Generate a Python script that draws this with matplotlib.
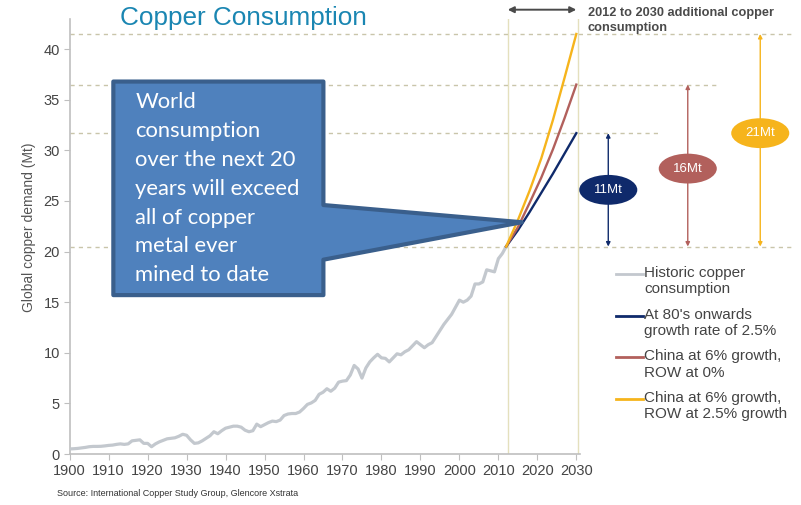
"""
Copper consumption chart: historic demand plus three 2012-2030 scenarios.
"""

import matplotlib
matplotlib.use('Agg')
import matplotlib.pyplot as plt
from matplotlib.patches import Polygon, Ellipse
from matplotlib.lines import Line2D

plt.rcParams['font.family'] = ['Liberation Sans', 'DejaVu Sans']

# Historic world copper consumption (Mt)
hist_years = list(range(1900, 2013))
hist_values = [
    0.5, 0.52, 0.55, 0.6, 0.65, 0.72, 0.75, 0.75, 0.76, 0.8,
    0.85, 0.88, 0.95, 1.0, 0.95, 1.0, 1.3, 1.35, 1.4, 1.05,
    1.05, 0.72, 1.0, 1.2, 1.35, 1.5, 1.55, 1.6, 1.75, 1.95,
    1.85, 1.4, 1.05, 1.1, 1.3, 1.55, 1.8, 2.2, 2.0, 2.3,
    2.55, 2.65, 2.75, 2.75, 2.65, 2.35, 2.2, 2.3, 2.95, 2.7,
    2.9, 3.1, 3.25, 3.2, 3.35, 3.8, 3.95, 4.0, 4.0, 4.15,
    4.5, 4.9, 5.05, 5.3, 5.9, 6.1, 6.45, 6.2, 6.5, 7.1,
    7.2, 7.25, 7.8, 8.75, 8.4, 7.5, 8.5, 9.1, 9.5, 9.85,
    9.5, 9.45, 9.1, 9.5, 9.9, 9.8, 10.1, 10.3, 10.7, 11.1,
    10.8, 10.5, 10.8, 11.0, 11.6, 12.2, 12.8, 13.3, 13.8, 14.5,
    15.2, 15.0, 15.2, 15.6, 16.8, 16.8, 17.0, 18.2, 18.1, 18.0,
    19.3, 19.8, 20.5,
]

# Scenario projections 2012-2030 (Mt)
proj_years = [2012, 2015, 2018, 2021, 2024, 2027, 2030]
proj_base = [20.5, 22.1, 23.9, 25.8, 27.7, 29.7, 31.7]
proj_china_row0 = [20.5, 22.4, 24.8, 27.3, 30.1, 33.2, 36.5]
proj_china_row25 = [20.5, 23.1, 26.0, 29.2, 33.0, 37.2, 41.5]

increase_labels = ['11Mt', '16Mt', '21Mt']
increase_x = [2038.2, 2058.6, 2077.2]

legend_labels = [
    'Historic copper\nconsumption',
    "At 80's onwards\ngrowth rate of 2.5%",
    'China at 6% growth,\nROW at 0%',
    'China at 6% growth,\nROW at 2.5% growth',
]

C_HIST = '#c3c8ce'
C_BLUE = '#0f2a6b'
C_RED = '#b2605c'
C_YEL = '#f6b41c'
C_GUIDE = '#c9c5aa'
C_TEXT = '#4a4a4a'

W, H = 801, 505
fig = plt.figure(figsize=(W / 100, H / 100), dpi=100)


def fx(px):
    return px / W


def fy(py):
    return 1 - py / H


ax = fig.add_axes([fx(69.7), fy(454), (800 - 69.7) / W, (454 - 18.8) / H])
ax.set_xlim(1900, 2087.4)
ax.set_ylim(0, 43)

for side in ('top', 'right'):
    ax.spines[side].set_visible(False)
for side in ('left', 'bottom'):
    ax.spines[side].set_color('#bfbfbf')
    ax.spines[side].set_linewidth(1.2)
ax.spines['bottom'].set_bounds(1900, 2031)

ax.set_xticks(range(1900, 2031, 10))
ax.set_yticks(range(0, 41, 5))
ax.tick_params(length=4, color='#bfbfbf', labelcolor='#444444', labelsize=10.5, pad=3)

ax.set_ylabel('Global copper demand (Mt)', fontsize=10, color='#555555')
ax.yaxis.set_label_coords(-0.046, 0.52)

# guide lines
ax.axvline(2012.4, color='#e4e0bd', lw=1, zorder=1)
ax.axvline(2030.4, color='#e4e0bd', lw=1, zorder=1)
guide_levels = [proj_china_row25[-1], proj_china_row0[-1], proj_base[-1], proj_base[0]]
guide_ends = [2085.4, 2066.4, 2051.0, 2085.4]
for level, end in zip(guide_levels, guide_ends):
    ax.plot([1900, end], [level, level], ls=(0, (3, 3)), color=C_GUIDE, lw=1, zorder=1,
            clip_on=False)

ax.plot(hist_years, hist_values, color=C_HIST, lw=2.3, zorder=3)
ax.plot(proj_years, proj_base, color=C_BLUE, lw=1.7, zorder=4)
ax.plot(proj_years, proj_china_row0, color=C_RED, lw=1.7, zorder=4)
ax.plot(proj_years, proj_china_row25, color=C_YEL, lw=1.7, zorder=4)

# 2012-2030 span arrow
ax.annotate('', xy=(2030, 43.9), xytext=(2012.4, 43.9), annotation_clip=False,
            arrowprops=dict(arrowstyle='<|-|>', color=C_TEXT, lw=1.4,
                            mutation_scale=9, shrinkA=0, shrinkB=0))
fig.text(fx(588), fy(7), '2012 to 2030 additional copper\nconsumption', fontsize=9.2,
         fontweight='bold', color=C_TEXT, va='top', ha='left', linespacing=1.33)

# vertical increase arrows with ellipse labels
tops = [proj_base[-1], proj_china_row0[-1], proj_china_row25[-1]]
ell_y = [26.1, 28.2, 31.7]
colors = [C_BLUE, C_RED, C_YEL]
for x, top, ey, lab, col in zip(increase_x, tops, ell_y, increase_labels, colors):
    ax.annotate('', xy=(x, top), xytext=(x, proj_base[0]), annotation_clip=False,
                arrowprops=dict(arrowstyle='<|-|>', color=col, lw=1.0,
                                mutation_scale=6, shrinkA=0, shrinkB=0))
    ax.add_patch(Ellipse((x, ey), 14.9, 2.95, facecolor=col, edgecolor='none',
                         zorder=5, clip_on=False))
    ax.text(x, ey, lab, color='white', fontsize=9.5, ha='center', va='center', zorder=6)

# callout box
callout = Polygon(
    [(1911.2, 15.7), (1911.2, 36.8), (1965.1, 36.8), (1965.1, 24.6),
     (2016.0, 22.9), (1965.1, 19.2), (1965.1, 15.7)],
    closed=True, facecolor='#4f81bd', edgecolor='#3a5f8c', lw=3, joinstyle='round',
    zorder=7)
ax.add_patch(callout)
ax.text(1916.8, 35.8, 'World\nconsumption\nover the next 20\nyears will exceed\n'
        'all of copper\nmetal ever\nmined to date',
        family=['Lato', 'DejaVu Sans'], fontsize=15.8, color='white', va='top',
        ha='left', linespacing=1.56, zorder=8)

# title
fig.text(fx(120), fy(18), 'Copper Consumption', fontsize=18.8, color='#1a86b2',
         ha='left', va='center')

# legend
legend_colors = [C_HIST, C_BLUE, C_RED, C_YEL]
for i, (lab, col) in enumerate(zip(legend_labels, legend_colors)):
    top = 266 + i * 41.7
    fig.add_artist(Line2D([fx(616), fx(643)], [fy(top + 8)] * 2, color=col, lw=2))
    fig.text(fx(644), fy(top), lab, fontsize=11, color='#444444', va='top', ha='left',
             linespacing=1.2)

fig.text(fx(57), fy(494), 'Source: International Copper Study Group, Glencore Xstrata',
         fontsize=6.5, color='#333333', va='center', ha='left')

fig.savefig('out.png', dpi=100)
